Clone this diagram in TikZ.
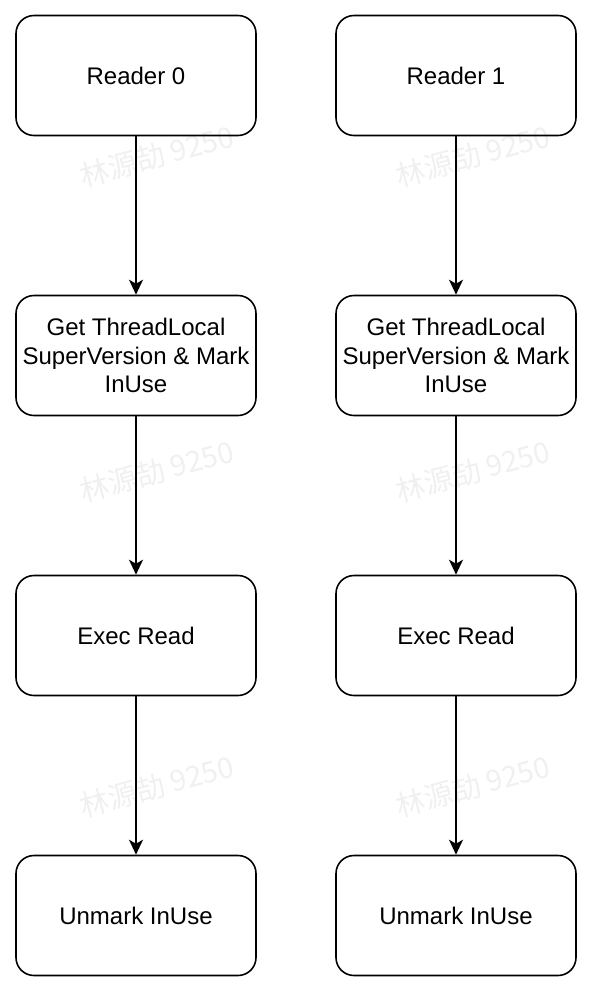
\documentclass[tikz,border=0pt]{standalone}
\usepackage{fontspec}
\setmainfont{Liberation Sans}
\newfontfamily\cjkfont{Noto Sans CJK SC}
\usetikzlibrary{arrows.meta}
\begin{document}
\begin{tikzpicture}[x=1pt,y=-1pt,>={Stealth[length=15pt,width=14pt,inset=4pt]},line join=round,
	font=\fontsize{24}{28.5}\selectfont,
	box/.style={draw,line width=1.6pt,rounded corners=18pt,minimum width=240pt,minimum height=120pt,align=center,inner sep=2pt},
	flow/.style={->,line width=1.6pt},
	wmark/.style={text=black!6,rotate=15,inner sep=0pt,font=\fontsize{29}{29}\selectfont}
	]
	%	\draw[thin,gray!50,step=50pt] (0,0) grid (594,994);
	\useasboundingbox (0,0) rectangle (594,994);
	
	% watermark
	\node[wmark] (w0a) at (157,156) {\cjkfont 林源劼 9250};
	\node[wmark] (w0b) at (157,471) {\cjkfont 林源劼 9250};
	\node[wmark] (w0c) at (157,786) {\cjkfont 林源劼 9250};
	\node[wmark] (w1a) at (473,156) {\cjkfont 林源劼 9250};
	\node[wmark] (w1b) at (473,471) {\cjkfont 林源劼 9250};
	\node[wmark] (w1c) at (473,786) {\cjkfont 林源劼 9250};
	
	% reader 0
	\node[box] (reader0) at (136,75.5) {Reader 0};
	\node[box] (get0) at (136,355.5) {Get ThreadLocal\\SuperVersion \& Mark\\InUse};
	\node[box] (exec0) at (136,635.5) {Exec Read};
	\node[box] (unmark0) at (136,915.5) {Unmark InUse};
	
	% reader 1
	\node[box] (reader1) at (456,75.5) {Reader 1};
	\node[box] (get1) at (456,355.5) {Get ThreadLocal\\SuperVersion \& Mark\\InUse};
	\node[box] (exec1) at (456,635.5) {Exec Read};
	\node[box] (unmark1) at (456,915.5) {Unmark InUse};
	
	\draw[flow] (reader0)--(get0);
	\draw[flow] (get0)--(exec0);
	\draw[flow] (exec0)--(unmark0);
	\draw[flow] (reader1)--(get1);
	\draw[flow] (get1)--(exec1);
	\draw[flow] (exec1)--(unmark1);
\end{tikzpicture}
\end{document}
